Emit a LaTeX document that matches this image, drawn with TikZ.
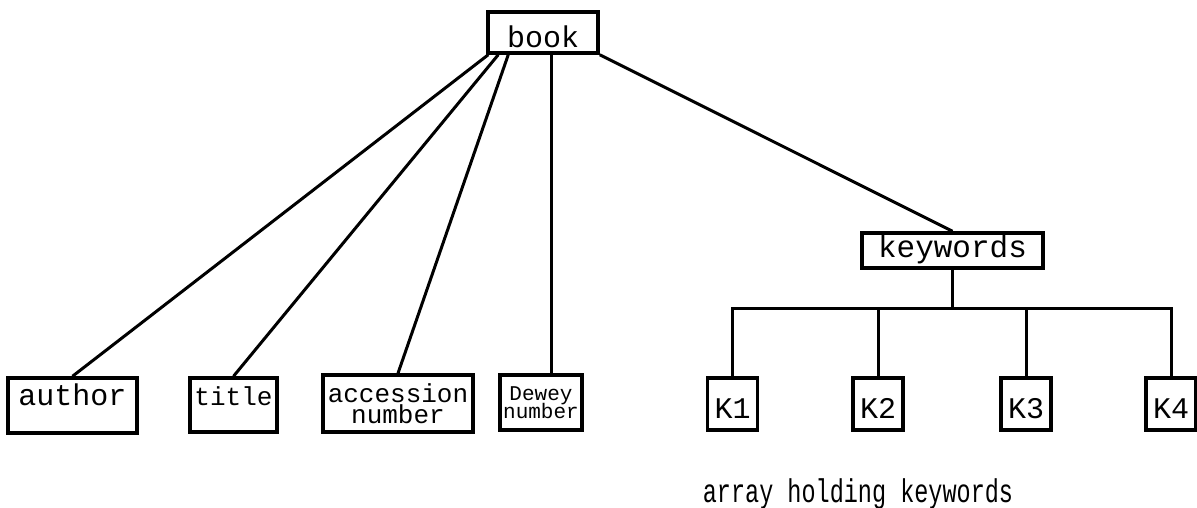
\documentclass[tikz,border=0pt]{standalone}
\usepackage{fontspec}
\usepackage{graphicx}
\setmonofont{Liberation Mono}
\usetikzlibrary{calc}
\newcommand\tsz[1]{\fontsize{#1}{#1}\selectfont}
\tikzset{
  box/.style={draw,line width=3.5pt,inner sep=0pt,align=center,font=\ttfamily\tsz{#1}},
  box/.default=30,
  link/.style={line width=3pt},
}
\begin{document}
\begin{tikzpicture}[x=1pt,y=-1pt]
    \useasboundingbox (0,0) rectangle (1197,508);
    \node[box,minimum width=110pt,text height=36pt,text depth=5pt] (book) at (543,32.5) {book};
    \node[box,minimum width=129pt,text height=27pt,text depth=28pt] (author) at (72.5,405.5) {author};
    \node[box=26,minimum width=87pt,text height=27pt,text depth=27pt] (title) at (233.5,405) {title};
    \node[box=26,minimum width=150pt,minimum height=57pt] (accession) at (398,403.5) {accession\\[-5pt]number};
    \node[box=21,minimum width=82pt,minimum height=55pt] (dewey) at (541,402.5) {Dewey\\[-3pt]number};
    \node[box=31,minimum width=181pt,text height=24pt,text depth=11pt] (keywords) at (952.5,250.5) {keywords};
    \foreach \k/\x in {1/732.5,2/878,3/1026,4/1171}
        \node[box,minimum width=50pt,text height=40pt,text depth=12pt] (k\k) at (\x,404) {K\k};
    \node[font=\ttfamily\tsz{23.5},anchor=base] (caption) at (858,502) {\scalebox{1}[1.4]{array holding keywords}};
    \draw[link] ([xshift=2pt]book.south west) -- (author.north);
    \draw[link] ([xshift=12pt]book.south west) -- (title.north);
    \draw[link] ([xshift=22pt]book.south west) -- (accession.north);
    \draw[link] ([xshift=8pt]book.south) -- ([xshift=10pt]dewey.north);
    \draw[link] (book.south east) -- (keywords.north);
    \coordinate (bus) at ($(keywords.south)+(0,39)$);
    \draw[link] (keywords.south) -- (bus);
    \draw[link] (k1.north) |- (bus) -| (k4.north);
    \foreach \k in {2,3}
        \draw[link] (k\k.north) -- (k\k.north |- bus);
\end{tikzpicture}
\end{document}
